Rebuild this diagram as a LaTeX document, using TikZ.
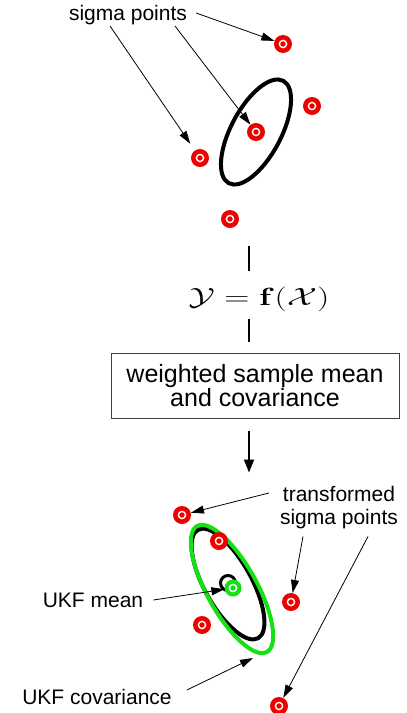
\documentclass[tikz,border=0pt]{standalone}
\usepackage[no-math]{fontspec}
\setmainfont{Liberation Sans}
\usetikzlibrary{arrows.meta}

\definecolor{ptred}{RGB}{238,0,0}
\definecolor{ukfgreen}{RGB}{20,225,20}

\tikzset{
    sigpt/.style={circle, fill=ptred, minimum size=18pt, inner sep=0pt,
        path picture={\draw[white, line width=1.4pt] (path picture bounding box.center) circle (3.6pt);}},
    meanpt/.style={sigpt, fill=ukfgreen, minimum size=17pt},
    lbl/.style={font=\fontsize{21}{23}\selectfont, inner sep=1pt, align=center},
    pointer/.style={line width=0.8pt, -{Triangle[length=13pt,width=8pt]}},
}

\begin{document}
\begin{tikzpicture}[x=1pt, y=1pt]
    \useasboundingbox (0,0) rectangle (407,-713);

    % prior sigma points and covariance
    \draw[line width=4pt, rotate around={62:(256,-132)}] (256,-132) ellipse [x radius=58, y radius=25];
    \node[sigpt] (s1) at (283,-44) {};
    \node[sigpt] (s2) at (312,-106) {};
    \node[sigpt] (s3) at (256,-132) {};
    \node[sigpt] (s4) at (200,-158) {};
    \node[sigpt] (s5) at (230,-219) {};

    \node[lbl] (lblSig) at (128,-15) {sigma points};
    \draw[pointer] ([xshift=8pt,yshift=2pt]lblSig.east) -- (s1);
    \draw[pointer] ([xshift=47pt]lblSig.south) -- (s3);
    \draw[pointer, shorten >=8pt] ([xshift=-18pt]lblSig.south) -- (s4);

    % transform
    \coordinate (inTop) at (249,-246);
    \node[inner sep=0pt, font=\fontsize{32}{38}\selectfont] (fx) at (259,-299)
        {\scalebox{1.4}[1]{$\mathcal{Y}=\mathbf{f}(\mathcal{X})$}};
    \node[draw=black!75, line width=1pt, minimum width=288pt, minimum height=65pt, inner sep=0pt,
          align=center, font=\fontsize{25}{23}\selectfont] (wsm) at (255,-385.5) {weighted sample mean\\and covariance};
    \draw[line width=1.8pt] (inTop) -- ([yshift=15pt]fx.north -| inTop);
    \draw[line width=1.8pt] ([yshift=-7pt]fx.south -| inTop) -- ([yshift=11pt]wsm.north -| inTop);
    \draw[line width=1.8pt, -{Triangle[length=13pt,width=10pt]}] ([yshift=-12pt]wsm.south -| inTop) -- ++(0,-42);

    % transformed points
    \draw[line width=4pt, rotate around={119:(228,-584)}] (228,-584) ellipse [x radius=62, y radius=23.5];
    \draw[line width=4pt, ukfgreen, rotate around={119:(232,-589)}] (232,-589) ellipse [x radius=72, y radius=25];
    \draw[line width=3pt] (228,-583) circle (7.5);
    \node[meanpt] (mean) at (233,-588) {};
    \node[sigpt] (ta) at (182,-515) {};
    \node[sigpt] (tb) at (219,-541) {};
    \node[sigpt] (tc) at (291,-602) {};
    \node[sigpt] (td) at (202,-625) {};
    \node[sigpt] (te) at (279,-706) {};

    \node[lbl] (lblTrans) at (339,-508) {transformed\\sigma points};
    \node[lbl] (lblMean) at (93,-600) {UKF mean};
    \node[lbl] (lblCov) at (97,-697) {UKF covariance};
    \coordinate (covTip) at (253,-658);

    \draw[pointer] ([shift={(-10pt,15pt)}]lblTrans.west) -- (ta);
    \draw[pointer] ([shift={(-36pt,-6pt)}]lblTrans.south) -- (tc);
    \draw[pointer] ([shift={(29pt,-6pt)}]lblTrans.south) -- (te);
    \draw[pointer] ([xshift=9pt]lblMean.east) -- (mean);
    \draw[pointer] ([shift={(14pt,7pt)}]lblCov.east) -- (covTip);
\end{tikzpicture}
\end{document}
